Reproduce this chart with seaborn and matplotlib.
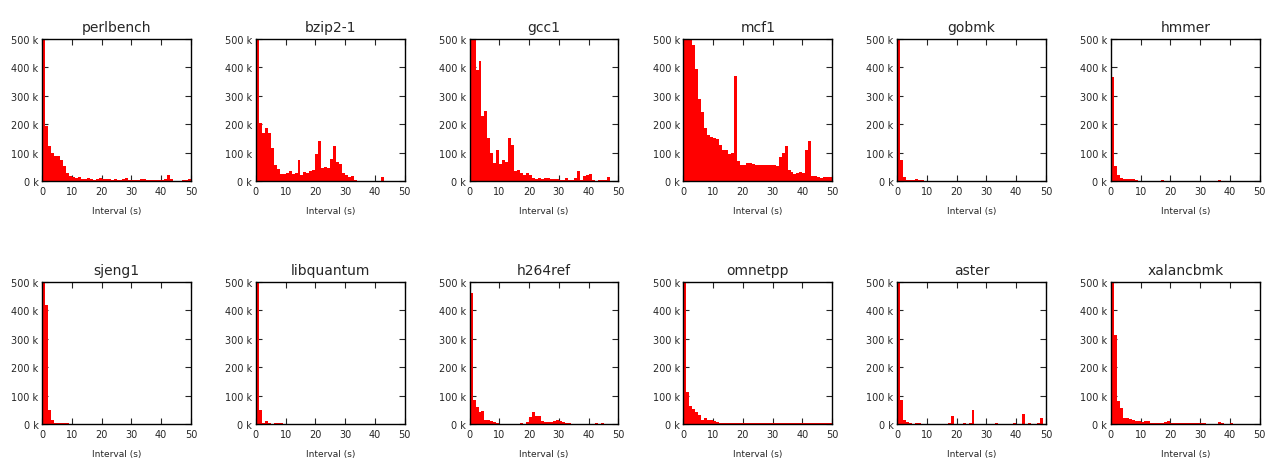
import numpy as np
import pandas as pd
import matplotlib
matplotlib.use("Agg")
import matplotlib.pyplot as plt
import seaborn as sns
from matplotlib.ticker import FuncFormatter

# Benchmarks shown, in panel order
benchmarks = ["perlbench", "bzip2-1", "gcc1", "mcf1", "gobmk", "hmmer",
              "sjeng1", "libquantum", "h264ref", "omnetpp", "aster", "xalancbmk"]

# Interval bins (seconds), one bin per second
bin_edges = list(range(0, 51))

# Counts per 1-second bin, in thousands (values above 500 k are clipped by the axis)
perlbench = [900, 195, 125, 98, 88, 88, 75, 52, 30, 18, 15, 10, 14, 8, 8, 12, 6, 5, 7, 10,
             8, 6, 9, 4, 6, 5, 5, 7, 10, 3, 3, 3, 5, 6, 9, 4, 5, 3, 3, 3,
             4, 7, 20, 8, 2, 2, 2, 4, 5, 6]
bzip2_1 = [900, 205, 170, 188, 170, 115, 58, 42, 25, 24, 28, 36, 25, 28, 73, 20, 32, 27, 35, 40,
           95, 140, 45, 48, 45, 78, 124, 68, 60, 28, 20, 16, 18, 4, 2, 1, 1, 1, 2, 1,
           1, 1, 15, 1, 1, 0.5, 0.5, 0.5, 0.5, 0.5]
gcc1 = [900, 600, 390, 422, 228, 248, 150, 100, 65, 110, 60, 75, 68, 150, 128, 35, 40, 30, 20, 28,
        20, 10, 8, 12, 7, 10, 10, 6, 8, 8, 4, 4, 12, 4, 4, 10, 35, 3, 18, 20,
        26, 4, 2, 3, 4, 5, 15, 2, 1, 1]
mcf1 = [900, 700, 600, 480, 395, 290, 242, 188, 163, 155, 153, 148, 128, 108, 110, 95, 98, 370, 72, 58,
        57, 62, 63, 60, 58, 57, 56, 57, 55, 55, 56, 53, 85, 100, 125, 38, 33, 24, 30, 32,
        28, 108, 142, 18, 18, 16, 12, 14, 14, 15]
gobmk = [900, 73, 15, 5, 3, 3, 6, 5, 3, 2, 1, 1, 1, 1, 1, 1, 1, 1, 1, 1,
         1, 1, 1, 1, 1, 1, 1, 1, 1, 1, 1, 1, 1, 1, 1, 1, 1, 1, 1, 1,
         1, 1, 1, 1, 1, 1, 1, 1, 1, 1]
hmmer = [365, 52, 22, 12, 7, 7, 7, 7, 3, 2, 2, 2, 2, 2, 2, 2, 2, 3, 2, 2,
         1, 1, 1, 1, 1, 1, 1, 1, 1, 1, 1, 1, 1, 1, 1, 1, 3, 1, 1, 1,
         1, 1, 1, 1, 1, 1, 1, 1, 1, 1]
sjeng1 = [900, 420, 50, 15, 5, 3, 3, 4, 3, 1, 1, 1, 1, 1, 1, 1, 1, 1, 1, 1,
          1, 1, 1, 1, 1, 1, 1, 1, 1, 1, 1, 1, 1, 1, 1, 1, 1, 1, 1, 1,
          1, 1, 1, 1, 1, 1, 1, 1, 1, 1]
libquantum = [900, 48, 2, 9, 2, 1, 3, 4, 3, 1, 0.5, 0.5, 0.5, 0.5, 0.5, 0.5, 0.5, 0.5, 0.5, 0.5,
              0.5, 0.5, 0.5, 0.5, 0.5, 0.5, 0.5, 0.5, 0.5, 0.5, 0.5, 0.5, 0.5, 0.5, 0.5, 0.5, 0.5, 0.5, 0.5, 0.5,
              0.5, 0.5, 0.5, 0.5, 0.5, 0.5, 0.5, 0.5, 0.5, 0.5]
h264ref = [460, 85, 60, 42, 47, 13, 13, 10, 6, 3, 1, 1, 1, 1, 1, 1, 1, 3, 1, 8,
           25, 44, 30, 28, 9, 8, 8, 6, 12, 14, 11, 8, 4, 2, 1, 1, 1, 1, 1, 1,
           1, 1, 3, 1, 2, 1, 1, 1, 1, 1]
omnetpp = [900, 113, 62, 52, 43, 32, 14, 22, 14, 15, 10, 7, 5, 5, 4, 4, 3, 3, 3, 3,
           3, 3, 3, 3, 3, 3, 3, 3, 2, 2, 2, 2, 2, 2, 2, 2, 2, 2, 2, 2,
           2, 2, 2, 2, 2, 2, 2, 2, 2, 2]
aster = [900, 85, 14, 6, 5, 1, 5, 5, 1, 1, 1, 1, 1, 1, 1, 1, 1, 3, 30, 1,
         1, 1, 5, 1, 5, 48, 1, 1, 1, 1, 1, 1, 1, 2, 1, 1, 1, 1, 1, 2,
         1, 1, 37, 1, 4, 1, 1, 5, 20, 1]
xalancbmk = [900, 315, 80, 58, 20, 20, 16, 15, 12, 10, 6, 12, 10, 5, 4, 4, 4, 4, 6, 9,
             3, 4, 4, 4, 2, 3, 3, 3, 3, 2, 5, 2, 1, 1, 1, 1, 8, 2, 1, 1,
             2, 1, 1, 1, 1, 1, 1, 1, 1, 1]

series = [perlbench, bzip2_1, gcc1, mcf1, gobmk, hmmer,
          sjeng1, libquantum, h264ref, omnetpp, aster, xalancbmk]

x_ticks = [0, 10, 20, 30, 40, 50]
y_ticks = [0, 100000, 200000, 300000, 400000, 500000]

sns.set_style("ticks")
plt.rcParams["font.family"] = ["DejaVu Sans"]
plt.rcParams["xtick.direction"] = "in"
plt.rcParams["ytick.direction"] = "in"
plt.rcParams["xtick.top"] = True
plt.rcParams["ytick.right"] = True

fig, axes = plt.subplots(2, 6, figsize=(12.75, 4.6), dpi=100)
fig.subplots_adjust(left=0.033, right=0.988, top=0.913, bottom=0.076,
                    wspace=0.436, hspace=0.71)

centers = np.arange(0.5, 50.5, 1.0)

for ax, name, vals in zip(axes.flat, benchmarks, series):
    df = pd.DataFrame({"interval": centers, "count": np.array(vals) * 1000})
    sns.histplot(data=df, x="interval", weights="count", bins=bin_edges,
                 color="#ff0000", alpha=1.0, linewidth=0, ax=ax)
    ax.set_xlim(0, 50)
    ax.set_ylim(0, 500000)
    ax.set_xticks(x_ticks)
    ax.set_yticks(y_ticks)
    ax.yaxis.set_major_formatter(FuncFormatter(lambda v, p: f"{int(v / 1000)} k"))
    ax.tick_params(axis="x", pad=3.5)
    ax.tick_params(axis="y", pad=2.5)
    ax.tick_params(axis="both", labelsize=7, length=4, width=0.8,
                   top=True, right=True, direction="in")
    ax.set_title(name, fontsize=10, pad=6)
    ax.set_xlabel("Interval (s)", fontsize=6.5, labelpad=7)
    ax.set_ylabel("")
    for s in ax.spines.values():
        s.set_visible(True)
        s.set_linewidth(1.0)
        s.set_color("black")

plt.savefig("out.png", dpi=100)
